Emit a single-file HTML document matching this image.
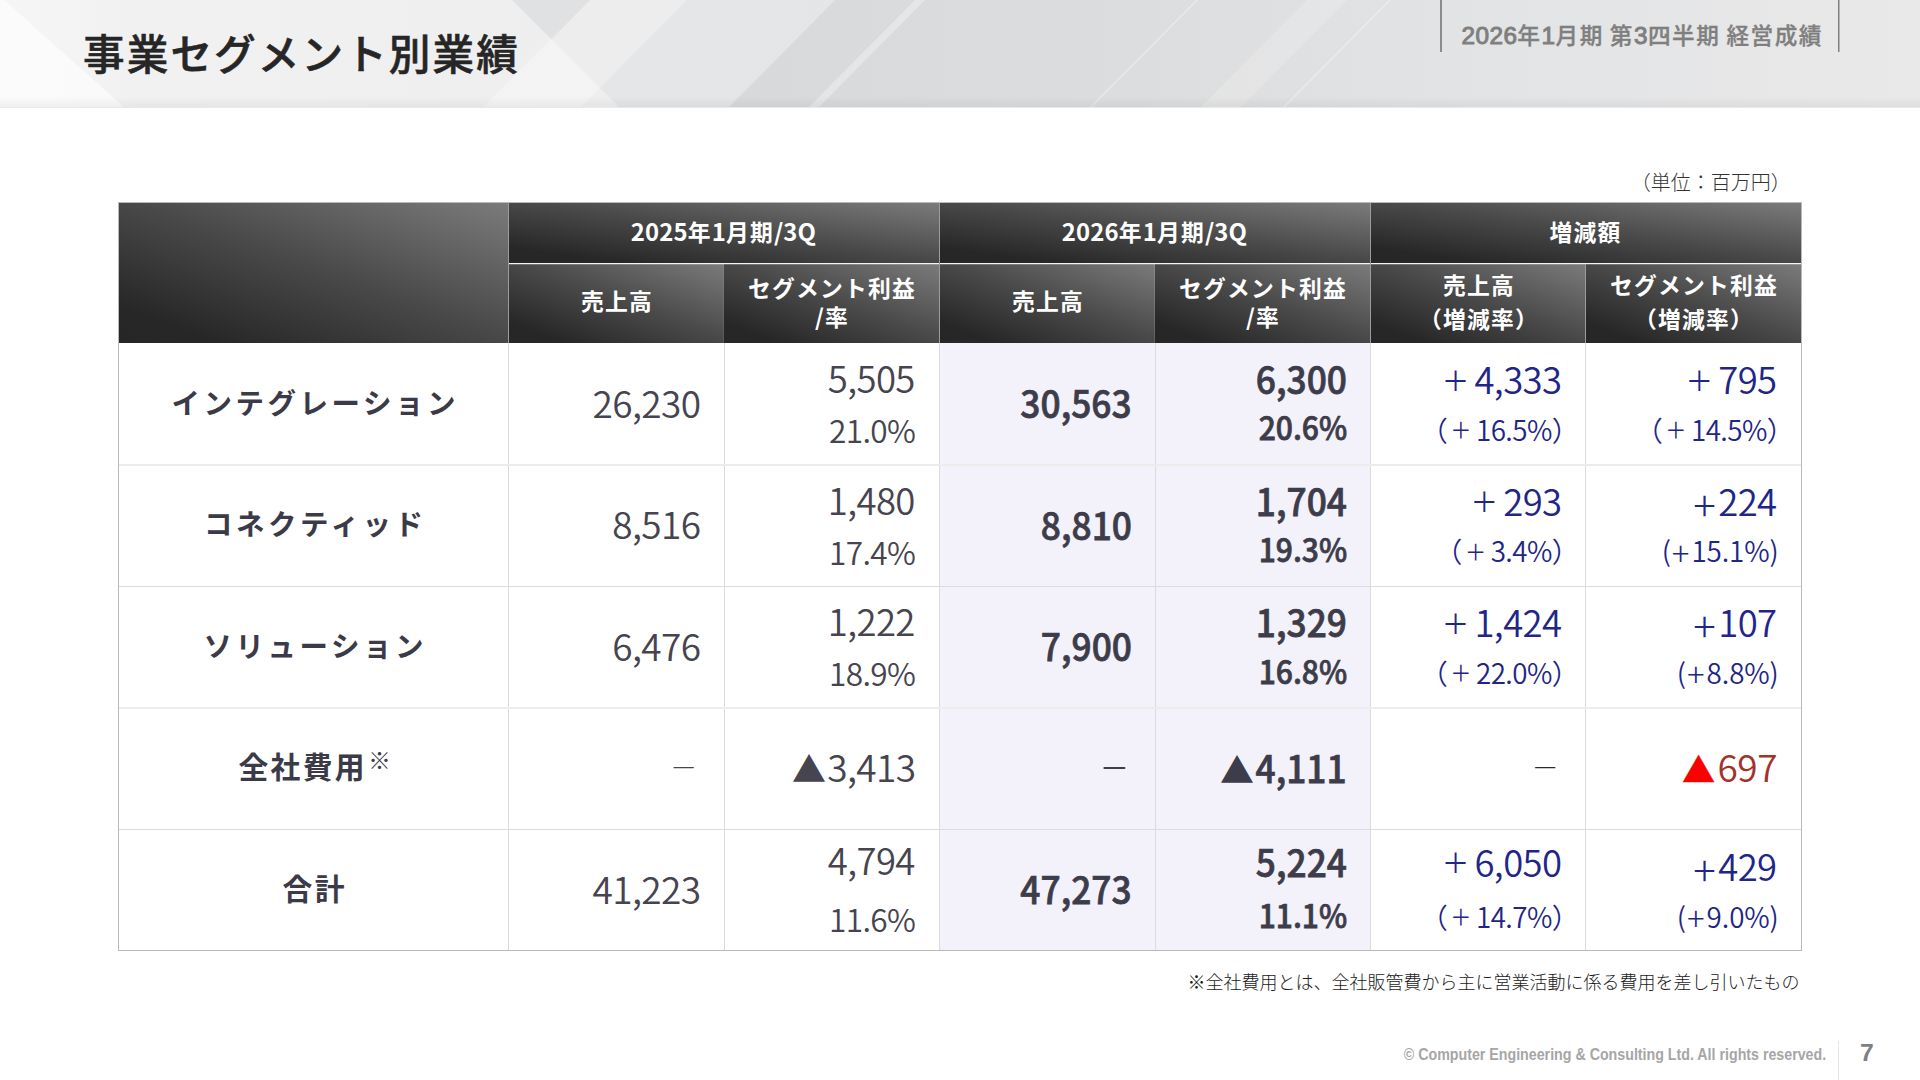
<!DOCTYPE html>
<html lang="ja">
<head>
<meta charset="utf-8">
<title>事業セグメント別業績</title>
<style>
html,body{margin:0;padding:0;}
body{width:1920px;height:1080px;overflow:hidden;background:#fff;position:relative;
  font-family:"Noto Sans CJK JP","Liberation Sans",sans-serif;color:#3b3a48;}
.abs{position:absolute;}
#hdr{left:0;top:0;width:1920px;height:107px;overflow:hidden;}
#hdr2{left:0;top:107px;width:1920px;height:1px;background:#e8e9ea;}
#hdr svg{position:absolute;left:0;top:0;}
#title{left:83px;top:20px;font-size:41.6px;font-weight:500;-webkit-text-stroke:.6px #262626;color:#262626;line-height:64px;white-space:nowrap;letter-spacing:2.1px;}
#sub{left:1461.5px;top:18px;font-size:22.6px;font-weight:500;color:#7f7f7f;line-height:34px;white-space:nowrap;letter-spacing:1.55px;word-spacing:-.6px;-webkit-text-stroke:.35px #7f7f7f;}
#sub .d{font-family:"Liberation Sans",sans-serif;font-weight:400;font-size:24.3px;letter-spacing:.45px;-webkit-text-stroke:1px #7f7f7f;}
.vl{width:1px;background:#8a8a8a;top:0;height:52px;}
#unit{right:129.2px;top:167.6px;font-size:20px;font-weight:300;color:#333;line-height:28px;white-space:nowrap;}
#tbl{left:118px;top:202px;width:1684px;height:749px;}
#tbl div{position:absolute;}
.hc{color:#fff;font-weight:700;font-size:22.8px;letter-spacing:1.2px;padding-left:1.2px;line-height:34.25px;text-align:center;box-sizing:border-box;
  display:flex;align-items:center;justify-content:center;white-space:nowrap;
  background:linear-gradient(to top right,#262626 0%,#272727 13%,#494949 52%,#7b7b7b 100%);}
.h1{padding-bottom:2.4px;padding-left:0;padding-right:1.2px;}
.t{letter-spacing:.15px;font-size:23.9px;}
.h2.one{padding-bottom:5.2px;}
.h2.two{padding-bottom:2.8px;}
.h2.two.ta{line-height:29.8px;padding-bottom:2.2px;}
.hl1{background:#f4f4f4;box-shadow:0 1px 0 rgba(255,255,255,.22);}
.hl2{background:#9c9c9c;}
.hl3{background:rgba(255,255,255,.12);}
.hl{background:#f3f2fb;}
.ln{background:#dcdcdc;}
.ln2{background:#ececec;}
.hl+.row{}
.ob{background:#b9b9b9;}
.row{left:0;width:1684px;height:122px;}
.lab{left:1px;top:0;width:389px;height:122px;display:flex;align-items:center;justify-content:center;
  font-weight:700;font-size:28.5px;letter-spacing:3.5px;color:#3b3a48;white-space:nowrap;box-sizing:border-box;padding-left:3.5px;padding-bottom:6px;}
.c{top:0;height:122px;}
.l1,.l2,.s1{position:absolute;right:24px;white-space:nowrap;line-height:40px;}
.g{color:#45444f;font-weight:350;letter-spacing:-.6px;}
.g .s1{font-size:37px;top:38.7px;right:23.5px;}
.g .l1{font-size:36.5px;top:15.2px;right:24.2px;}
.g .l2{font-size:31.6px;top:66px;right:23.7px;}
.b{color:#3d3c4a;font-weight:500;-webkit-text-stroke:.75px #3d3c4a;}
.b .s1{font-size:38px;top:39.3px;right:23px;transform:scaleX(.93);transform-origin:100% 50%;}
.b .l1{font-size:38px;top:15px;right:23px;transform:scaleX(.93);transform-origin:100% 50%;}
.b .l2{font-size:32.3px;top:62.8px;right:23px;transform:scaleX(.93);transform-origin:100% 50%;}
.nv{color:#1f2687;font-weight:350;letter-spacing:-.55px;}
.nv .l1{font-size:36.5px;top:16.2px;right:24.4px;}
.nv .l2{font-size:27.8px;top:65.5px;right:24.5px;letter-spacing:-.55px;}
.nv .l2.hw{letter-spacing:-.1px;right:22.3px;}
.nv .s1{font-size:37px;top:38.7px;right:23.8px;}
.pf{font-weight:400;position:relative;letter-spacing:0;}
.l1 .pf{font-size:27.6px;top:-3.3px;margin-right:5px;}
.l2 .pf{font-size:21.2px;top:-2.4px;margin-right:4.5px;}
.ph{position:relative;letter-spacing:0;line-height:0;}
.l1 .ph{font-size:42px;top:5.2px;margin-right:2.3px;font-weight:300;}
.l2 .ph{font-size:33px;top:3.5px;margin-right:2px;margin-left:1px;font-weight:300;}
.po{margin-right:3.1px;}
.pc{margin-right:-17.6px;}
.tr{font-size:34px;margin-right:1.8px;}
.b .tr{display:inline-block;-webkit-text-stroke:0;transform:scaleX(1.075);transform-origin:100% 50%;margin-right:1.7px;}
.c .ds{font-size:27.3px;font-weight:300;top:38.5px;right:27.2px;}
.b .ds{font-size:29.7px;font-weight:400;top:39.2px;right:25.9px;transform:none;-webkit-text-stroke:0;}
.nv .ds{color:#2b2b2b;right:27.8px;top:38.5px;font-size:27.3px;}
.r2 .b .l2,.r3 .b .l2{top:63.5px;}
.r5 .g .l1{top:11.2px;}
.r5 .g .l2{top:68.9px;}
.r5 .b .l1{top:11.9px;}
.r5 .b .l2{top:65.1px;}
.r5 .c:nth-child(6) .l1{top:12.5px;}
.r5 .c:nth-child(6) .l2{top:66.6px;}
.r5 .c:nth-child(7) .l1{top:16.6px;}
.r5 .c:nth-child(7) .l2{top:66.9px;}
.red{color:#a3322b;letter-spacing:-.4px;}
.red .tr{color:#fb0000;font-size:33.2px;margin-right:2.4px;position:relative;top:0;letter-spacing:0;-webkit-text-stroke:.4px #c8281f;}
.lab.kj{font-size:29.8px;letter-spacing:2.3px;padding-left:2.3px;padding-bottom:6.5px;}
sup{font-size:22.5px;font-weight:300;letter-spacing:0;line-height:0;vertical-align:baseline;position:relative;top:-9.5px;margin-left:1.5px;}
#note{right:120.5px;top:967px;font-size:18px;font-weight:300;color:#1a1a1a;line-height:28px;white-space:nowrap;}
#copy{right:94px;top:1045.2px;font-family:"Liberation Sans",sans-serif;font-size:15.6px;font-weight:700;color:#a6a6a6;line-height:20px;white-space:nowrap;transform-origin:100% 50%;transform:scaleX(.912);}
#pg{left:1860px;top:1035px;font-family:"Liberation Sans",sans-serif;font-size:24.7px;font-weight:700;color:#7f7f7f;line-height:36px;}
#fvl{left:1838px;top:1041px;width:1px;height:39px;background:#e6e6e6;}
</style>
</head>
<body>
<div id="hdr" class="abs">
<svg width="1920" height="108" viewBox="0 0 1920 108">
<defs>
<linearGradient id="hb" x1="0" y1="0" x2="1920" y2="0" gradientUnits="userSpaceOnUse">
<stop offset="0" stop-color="#f6f6f7"/><stop offset="0.07" stop-color="#f1f1f2"/><stop offset="0.32" stop-color="#eeeeef"/><stop offset="1" stop-color="#eeeeef"/>
</linearGradient>
<linearGradient id="ha" x1="512" y1="0" x2="1920" y2="0" gradientUnits="userSpaceOnUse">
<stop offset="0" stop-color="#e5e6e7"/><stop offset="1" stop-color="#e3e4e5"/>
</linearGradient>
<linearGradient id="hc" x1="730" y1="0" x2="1920" y2="0" gradientUnits="userSpaceOnUse">
<stop offset="0" stop-color="#d8d9da"/><stop offset="0.35" stop-color="#dcddde"/><stop offset="0.6" stop-color="#e2e3e4"/><stop offset="1" stop-color="#e9e9ea"/>
</linearGradient>
<linearGradient id="hs" x1="0" y1="0" x2="0" y2="1"><stop offset="0" stop-color="#000" stop-opacity="0"/><stop offset="1" stop-color="#000" stop-opacity="0.045"/></linearGradient>
</defs>
<rect width="1920" height="108" fill="url(#hb)"/>
<polygon points="0,0 4,0 125,108 0,108" fill="#fff" opacity="0.6"/>
<polygon points="512,0 1920,0 1920,108 620,108" fill="url(#ha)"/>
<polygon points="835,0 1920,0 1920,108 728,108" fill="url(#hc)"/>
<polygon points="590,0 687,0 580,108 482,108" fill="#fff" opacity="0.3"/>
<polygon points="512,0 590,0 552,40" fill="#000" opacity="0.02"/>
<polygon points="915,0 925,0 818,108 808,108" fill="#fff" opacity="0.3"/>
<polygon points="1196,0 1198,0 1091,108 1089,108" fill="#fff" opacity="0.35"/>
<polygon points="1307,0 1347,0 1240,108 1200,108" fill="#fff" opacity="0.18"/>
<polygon points="1389,0 1391,0 1284,108 1282,108" fill="#fff" opacity="0.35"/>
<rect y="96" width="1920" height="11" fill="url(#hs)"/>
</svg>
</div>
<div id="hdr2" class="abs"></div>
<div id="title" class="abs">事業セグメント別業績</div>
<div class="abs vl" style="left:1440px;width:2px;background:#8c8c8c"></div>
<div class="abs vl" style="left:1838px;background:#7f7f7f"></div><div class="abs vl" style="left:1839px;background:#b4b4b6"></div>
<div id="sub" class="abs"><span class="d">2026</span>年<span class="d">1</span>月期 第<span class="d">3</span>四半期 経営成績</div>
<div id="unit" class="abs">（単位：百万円）</div>
<div id="tbl" class="abs">
<div class="hc " style="left:1px;top:1px;width:389px;height:140px"></div>
<div class="hc h1" style="left:391px;top:1px;width:430px;height:60px"><span><span class="t">2025</span>年<span class="t">1</span>月期<span class="t">/3Q</span></span></div>
<div class="hc h1" style="left:822px;top:1px;width:430px;height:60px"><span><span class="t">2026</span>年<span class="t">1</span>月期<span class="t">/3Q</span></span></div>
<div class="hc h1" style="left:1253px;top:1px;width:430px;height:60px"><span>増減額</span></div>
<div class="hc h2 one" style="left:391px;top:62px;width:215px;height:79px"><span>売上高</span></div>
<div class="hc h2 two ta" style="left:606px;top:62px;width:215px;height:79px"><span>セグメント利益<br>/率</span></div>
<div class="hc h2 one" style="left:822px;top:62px;width:215px;height:79px"><span>売上高</span></div>
<div class="hc h2 two ta" style="left:1037px;top:62px;width:215px;height:79px"><span>セグメント利益<br>/率</span></div>
<div class="hc h2 two" style="left:1253px;top:62px;width:215px;height:79px"><span>売上高<br>（増減率）</span></div>
<div class="hc h2 two" style="left:1468px;top:62px;width:215px;height:79px"><span>セグメント利益<br>（増減率）</span></div>
<div class="hl1" style="left:391px;top:61px;width:1292px;height:1px"></div>
<div class="hl2" style="left:390px;top:1px;width:1px;height:140px"></div>
<div class="hl2" style="left:821px;top:1px;width:1px;height:140px"></div>
<div class="hl2" style="left:1252px;top:1px;width:1px;height:140px"></div>
<div class="hl2" style="left:1467px;top:62px;width:1px;height:79px"></div>
<div style="left:1036px;top:62px;width:1px;height:79px;background:rgba(255,255,255,.13)"></div>
<div style="left:605px;top:62px;width:1px;height:79px;background:rgba(255,255,255,.08)"></div>
<div class="hl" style="left:822px;top:141px;width:430px;height:122px"></div>
<div class="row r1" style="top:141px">
<div class="lab"><span>インテグレーション</span></div>
<div class="c g" style="left:391px;width:215px"><span class="s1">26,230</span></div>
<div class="c g" style="left:606px;width:215px"><span class="l1">5,505</span><span class="l2">21.0%</span></div>
<div class="c b" style="left:822px;width:215px"><span class="s1">30,563</span></div>
<div class="c b" style="left:1037px;width:215px"><span class="l1">6,300</span><span class="l2">20.6%</span></div>
<div class="c nv" style="left:1253px;width:215px"><span class="l1"><span class="pf">＋</span>4,333</span><span class="l2"><span class="po">（</span><span class="pf">＋</span>16.5%<span class="pc">）</span></span></div>
<div class="c nv" style="left:1468px;width:215px"><span class="l1"><span class="pf">＋</span>795</span><span class="l2"><span class="po">（</span><span class="pf">＋</span>14.5%<span class="pc">）</span></span></div>
</div>
<div class="hl" style="left:822px;top:263px;width:430px;height:122px"></div>
<div class="row r2" style="top:262.5px">
<div class="lab"><span>コネクティッド</span></div>
<div class="c g" style="left:391px;width:215px"><span class="s1">8,516</span></div>
<div class="c g" style="left:606px;width:215px"><span class="l1">1,480</span><span class="l2">17.4%</span></div>
<div class="c b" style="left:822px;width:215px"><span class="s1">8,810</span></div>
<div class="c b" style="left:1037px;width:215px"><span class="l1">1,704</span><span class="l2">19.3%</span></div>
<div class="c nv" style="left:1253px;width:215px"><span class="l1"><span class="pf">＋</span>293</span><span class="l2"><span class="po">（</span><span class="pf">＋</span>3.4%<span class="pc">）</span></span></div>
<div class="c nv" style="left:1468px;width:215px"><span class="l1"><span class="ph">+</span>224</span><span class="l2 hw">(<span class="ph">+</span>15.1%)</span></div>
</div>
<div class="hl" style="left:822px;top:385px;width:430px;height:121px"></div>
<div class="row r3" style="top:384px">
<div class="lab"><span>ソリューション</span></div>
<div class="c g" style="left:391px;width:215px"><span class="s1">6,476</span></div>
<div class="c g" style="left:606px;width:215px"><span class="l1">1,222</span><span class="l2">18.9%</span></div>
<div class="c b" style="left:822px;width:215px"><span class="s1">7,900</span></div>
<div class="c b" style="left:1037px;width:215px"><span class="l1">1,329</span><span class="l2">16.8%</span></div>
<div class="c nv" style="left:1253px;width:215px"><span class="l1"><span class="pf">＋</span>1,424</span><span class="l2"><span class="po">（</span><span class="pf">＋</span>22.0%<span class="pc">）</span></span></div>
<div class="c nv" style="left:1468px;width:215px"><span class="l1"><span class="ph">+</span>107</span><span class="l2 hw">(<span class="ph">+</span>8.8%)</span></div>
</div>
<div class="hl" style="left:822px;top:506px;width:430px;height:122px"></div>
<div class="row r4" style="top:505.5px">
<div class="lab kj"><span>全社費用<sup>※</sup></span></div>
<div class="c g" style="left:391px;width:215px"><span class="s1 ds">－</span></div>
<div class="c g" style="left:606px;width:215px"><span class="s1"><span class="tr">▲</span>3,413</span></div>
<div class="c b" style="left:822px;width:215px"><span class="s1 ds">－</span></div>
<div class="c b" style="left:1037px;width:215px"><span class="s1"><span class="tr">▲</span>4,111</span></div>
<div class="c nv" style="left:1253px;width:215px"><span class="s1 ds">－</span></div>
<div class="c nv" style="left:1468px;width:215px"><span class="s1 red"><span class="tr">▲</span>697</span></div>
</div>
<div class="hl" style="left:822px;top:628px;width:430px;height:120px"></div>
<div class="row r5" style="top:627px">
<div class="lab kj"><span>合計</span></div>
<div class="c g" style="left:391px;width:215px"><span class="s1">41,223</span></div>
<div class="c g" style="left:606px;width:215px"><span class="l1">4,794</span><span class="l2">11.6%</span></div>
<div class="c b" style="left:822px;width:215px"><span class="s1">47,273</span></div>
<div class="c b" style="left:1037px;width:215px"><span class="l1">5,224</span><span class="l2">11.1%</span></div>
<div class="c nv" style="left:1253px;width:215px"><span class="l1"><span class="pf">＋</span>6,050</span><span class="l2"><span class="po">（</span><span class="pf">＋</span>14.7%<span class="pc">）</span></span></div>
<div class="c nv" style="left:1468px;width:215px"><span class="l1"><span class="ph">+</span>429</span><span class="l2 hw">(<span class="ph">+</span>9.0%)</span></div>
</div>
<div class="ln" style="left:390px;top:141px;width:1px;height:607px"></div>
<div class="ln" style="left:606px;top:141px;width:1px;height:607px"></div>
<div class="ln" style="left:821px;top:141px;width:1px;height:607px"></div>
<div class="ln" style="left:1037px;top:141px;width:1px;height:607px"></div>
<div class="ln" style="left:1252px;top:141px;width:1px;height:607px"></div>
<div class="ln" style="left:1467px;top:141px;width:1px;height:607px"></div>
<div class="ln2" style="left:1px;top:262px;width:1682px;height:2px"></div>
<div class="ln" style="left:1px;top:384px;width:1682px;height:1px"></div>
<div class="ln2" style="left:1px;top:505px;width:1682px;height:2px"></div>
<div class="ln" style="left:1px;top:627px;width:1682px;height:1px"></div>
<div class="ob" style="left:0;top:0;width:1684px;height:1px"></div>
<div class="ob" style="left:0;top:748px;width:1684px;height:1px"></div>
<div class="ob" style="left:0;top:0;width:1px;height:749px"></div>
<div class="ob" style="left:1683px;top:0;width:1px;height:749px"></div>
</div>
<div id="note" class="abs">※全社費用とは、全社販管費から主に営業活動に係る費用を差し引いたもの</div>
<div id="copy" class="abs">© Computer Engineering &amp; Consulting Ltd. All rights reserved.</div>
<div id="fvl" class="abs"></div>
<div id="pg" class="abs">7</div>
</body>
</html>
